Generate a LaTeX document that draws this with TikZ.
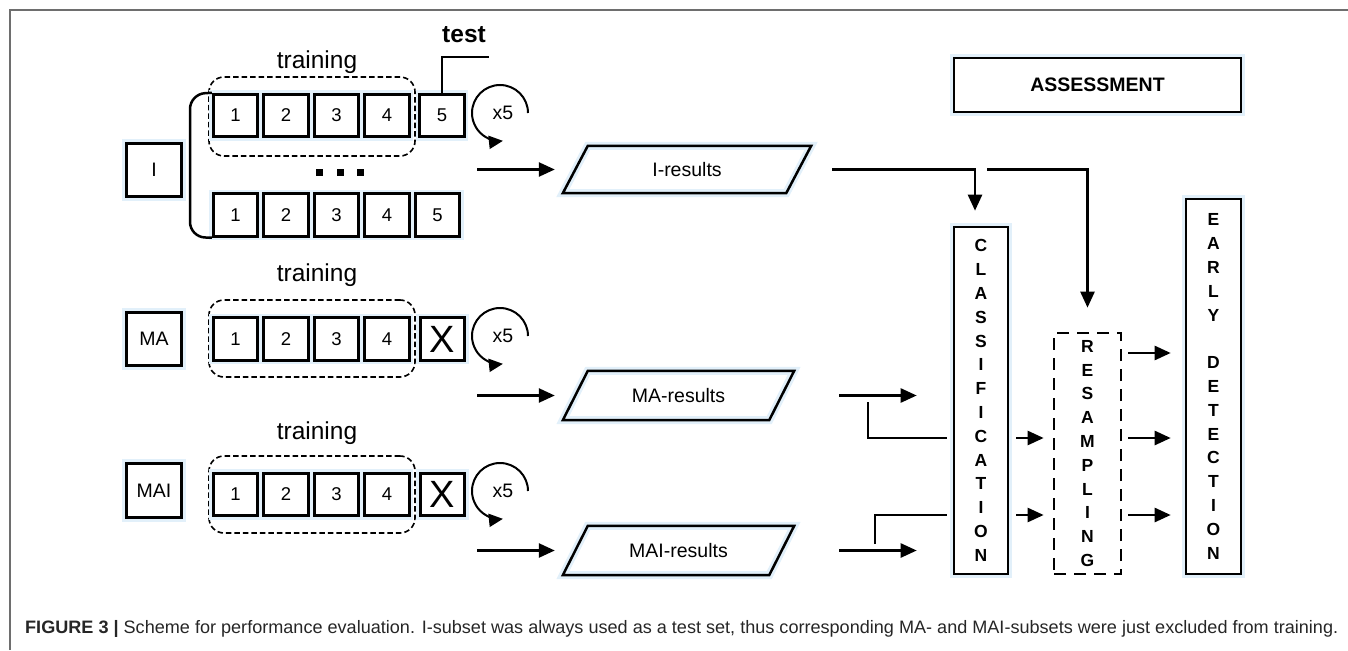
\documentclass[tikz,border=0pt]{standalone}
\usepackage{graphicx}
\usepackage{fontspec}
\setmainfont{Liberation Sans}
\usetikzlibrary{arrows.meta}
\definecolor{glowc}{RGB}{226,240,250}
\definecolor{framec}{RGB}{110,110,110}
\begin{document}
\begin{tikzpicture}[x=1pt,y=-1pt,
  glow/.style={preaction={draw=glowc,line width=8pt}},
  lbox/.style={glow,draw,line width=2.6pt,fill=white,inner sep=0pt,minimum width=55.5pt,minimum height=53.5pt,font=\fontsize{19.5}{22}\selectfont},
  numbox/.style={glow,draw,line width=2.9pt,fill=white,inner sep=0pt,minimum width=44.5pt,minimum height=42.5pt,font=\fontsize{18.5}{20}\selectfont},
  trainbox/.style={draw,line width=1.6pt,dash pattern=on 5.5pt off 3pt,rounded corners=15pt,inner sep=0pt,minimum width=206pt},
  trlabel/.style={font=\fontsize{24.5}{28}\selectfont,inner sep=0pt},
  ln/.style={line width=2.5pt},
  arr/.style={line width=2.5pt,-{Triangle[length=16pt,width=14pt]}},
  looparr/.style={line width=2pt,-{Triangle[length=14pt,width=13pt]}},
  reslabel/.style={inner sep=0pt,font=\fontsize{19.5}{22}\selectfont},
  para/.style={glow,draw,line width=2.5pt,line join=miter},
  vbox/.style={glow,draw,line width=2.6pt,fill=white,inner sep=0pt,align=center,font=\fontsize{17.5}{23.8}\selectfont\bfseries},
  dotn/.style={fill=black,inner sep=0pt,minimum size=7pt},
  xlabel/.style={font=\fontsize{19.5}{22}\selectfont,inner sep=0pt}
]
\useasboundingbox (0,0) rectangle (1348,650);
% frame
\coordinate (fbl) at (10,650);
\coordinate (ftl) at (10,10);
\coordinate (ftr) at (1348,10);
\draw[framec,line width=1.5pt] (fbl) -- (ftl) -- (ftr);

% left label boxes
\node[lbox] (I) at (154,170) {I};
\node[lbox] (MA) at (154,339) {MA};
\node[lbox,minimum height=54.5pt] (MAI) at (154,490.5) {MAI};

% training groups
\node[trainbox,minimum height=79pt] (tr1) at (312,116.5) {};
\node[trainbox,minimum height=77pt] (tr2) at (312,338.5) {};
\node[trainbox,minimum height=77pt] (tr3) at (312,494.5) {};
\node[trlabel] (tl1) at (317,62) {training};
\node[trlabel] (tl2) at (317,275) {training};
\node[trlabel] (tl3) at (317,433) {training};

% row 1
\node[numbox] (a1) at (235.5,115.5) {1};
\node[numbox] (a2) at (286,115.5) {2};
\node[numbox] (a3) at (336.5,115.5) {3};
\node[numbox] (a4) at (387,115.5) {4};
\node[numbox] (a5) at (442,115.5) {5};
% row 2
\node[numbox] (b1) at (235.5,215) {1};
\node[numbox] (b2) at (286,215) {2};
\node[numbox] (b3) at (336.5,215) {3};
\node[numbox] (b4) at (387,215) {4};
\node[numbox] (b5) at (437.5,215) {5};
% MA row
\node[numbox] (c1) at (235.5,339) {1};
\node[numbox] (c2) at (286,339) {2};
\node[numbox] (c3) at (336.5,339) {3};
\node[numbox] (c4) at (387,339) {4};
\node[numbox,font=\fontsize{38}{40}\selectfont] (c5) at (442.5,339) {X};
% MAI row
\node[numbox] (d1) at (235.5,494.5) {1};
\node[numbox] (d2) at (286,494.5) {2};
\node[numbox] (d3) at (336.5,494.5) {3};
\node[numbox] (d4) at (387,494.5) {4};
\node[numbox,font=\fontsize{38}{40}\selectfont] (d5) at (442.5,494.5) {X};

% dots
\node[dotn] (dt1) at (319,172) {};
\node[dotn] (dt2) at (340,172) {};
\node[dotn] (dt3) at (360,172) {};

% bracket
\coordinate (brt) at (190,94);
\coordinate (brb) at (190,237);
\draw[ln,rounded corners=15pt] (a1.north west) -- (brt) -- (brb) -- (b1.south west);

% test label
\node[font=\fontsize{24.5}{28}\selectfont\bfseries,inner sep=0pt] (test) at (464,35) {test};
\coordinate (tend) at (489,57);
\draw[ln] (a5.north) |- (tend);

% loops
\coordinate (lp1) at (500,113);
\coordinate (lp2) at (500,336);
\coordinate (lp3) at (500,491);
\draw[looparr] ([xshift=28pt]lp1) arc[start angle=0,end angle=276,radius=28pt];
\draw[looparr] ([xshift=28pt]lp2) arc[start angle=0,end angle=276,radius=28pt];
\draw[looparr] ([xshift=28pt]lp3) arc[start angle=0,end angle=276,radius=28pt];
\node[xlabel] (x51) at (503,113) {x5};
\node[xlabel] (x52) at (503,336) {x5};
\node[xlabel] (x53) at (503,491) {x5};

% results
\node[reslabel,minimum width=248pt,minimum height=47pt] (ires) at (687,169.5) {I-results};
\node[reslabel,minimum width=231pt,minimum height=49pt] (mares) at (678.5,395.5) {MA-results};
\node[reslabel,minimum width=231pt,minimum height=49pt] (maires) at (678.5,550.5) {MAI-results};
\foreach \n in {ires,mares,maires}{
  \draw[para] (\n.south west) -- ([xshift=25pt]\n.north west) -- (\n.north east) -- ([xshift=-25pt]\n.south east) -- cycle;
}
\coordinate (s1) at (477,169.5);
\coordinate (s2) at (477,395.5);
\coordinate (s3) at (477,550.5);
\draw[arr] (s1) -- ([xshift=-8pt]ires.west);
\draw[arr] (s2) -- ([xshift=-8pt]mares.west);
\draw[arr] (s3) -- ([xshift=-8pt]maires.west);

% right side boxes
\node[vbox,minimum width=54pt,minimum height=347pt] (cls) at (981,400.5) {C\\L\\A\\S\\S\\I\\F\\I\\C\\A\\T\\I\\O\\N};
\node[draw,inner sep=0pt,align=center,font=\fontsize{17.5}{23.8}\selectfont\bfseries,dash pattern=on 12pt off 8pt,line width=2.7pt,minimum width=67pt,minimum height=241pt] (res) at (1087.5,453.5) {R\\E\\S\\A\\M\\P\\L\\I\\N\\G};
\node[vbox,minimum width=55pt,minimum height=375pt] (early) at (1213.5,386.5) {E\\A\\R\\L\\Y\\[23.8pt]D\\E\\T\\E\\C\\T\\I\\O\\N};
\node[glow,draw,line width=2.6pt,fill=white,minimum width=287pt,minimum height=54pt,inner sep=0pt,font=\fontsize{19.5}{22}\selectfont\bfseries] (assess) at (1097.5,85) {ASSESSMENT};

% I-results connectors
\draw[arr] ([xshift=21pt]ires.east) -| ([xshift=-6pt,yshift=15pt]cls.north);
\draw[arr] ([xshift=176pt]ires.east) -| ([yshift=24pt]res.north);

% MA / MAI connectors
\coordinate (y0) at (0,353);
\coordinate (y1) at (0,438);
\coordinate (y2) at (0,515);
\draw[arr] ([xshift=45pt]mares.east) -- ([xshift=-36pt]cls.west |- mares.east);
\draw[arr] ([xshift=45pt]maires.east) -- ([xshift=-36pt]cls.west |- maires.east);
\coordinate (mab) at (868,402);
\coordinate (maib) at (875,544);
\draw[ln] (mab) |- ([xshift=-6pt]cls.west |- y1);
\draw[ln] (maib) |- ([xshift=-6pt]cls.west |- y2);
\draw[arr] ([xshift=7pt]cls.east |- y1) -- ([xshift=-9pt]res.west |- y1);
\draw[arr] ([xshift=7pt]cls.east |- y2) -- ([xshift=-9pt]res.west |- y2);
\draw[arr] ([xshift=6pt]res.east |- y0) -- ([xshift=-14pt]early.west |- y0);
\draw[arr] ([xshift=6pt]res.east |- y1) -- ([xshift=-14pt]early.west |- y1);
\draw[arr] ([xshift=6pt]res.east |- y2) -- ([xshift=-14pt]early.west |- y2);

% caption
\node[anchor=base west,inner sep=0pt,text=black!85] (cap) at (25,633) {\resizebox{1313pt}{\height}{\fontsize{18}{20}\selectfont\textbf{FIGURE 3 |} Scheme for performance evaluation. I-subset was always used as a test set, thus corresponding MA- and MAI-subsets were just excluded from training.}};
\end{tikzpicture}
\end{document}
